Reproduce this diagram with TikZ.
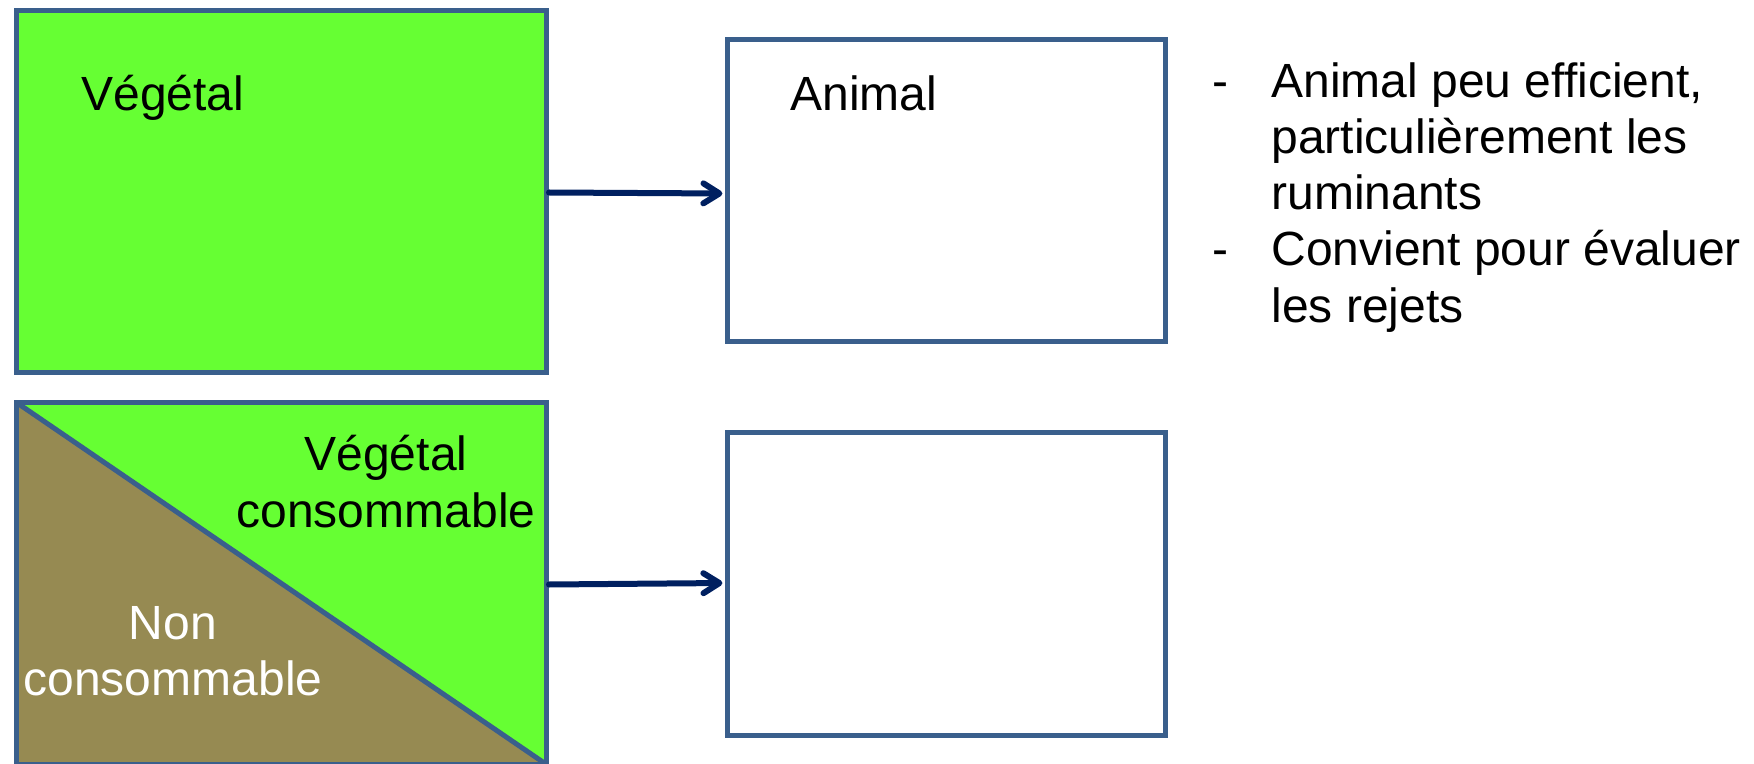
\documentclass[tikz,border=0pt]{standalone}
\usepackage{fontspec}
\setmainfont{Liberation Sans}
\usetikzlibrary{arrows.meta}
\definecolor{vgreen}{HTML}{66FF33}
\definecolor{nonc}{HTML}{968A52}
\definecolor{bordc}{HTML}{3A5F8C}
\definecolor{arrc}{HTML}{002060}
\begin{document}
\begin{tikzpicture}[x=0.5pt,y=-0.5pt,
  box/.style={draw=bordc, line width=2.5pt, rectangle, inner sep=0pt, anchor=north west},
  lbl/.style={inner sep=0pt, font=\fontsize{24}{28}\selectfont, anchor=base west},
  lblc/.style={inner sep=0pt, font=\fontsize{24}{28}\selectfont, anchor=base},
  conn/.style={draw=arrc, line width=3pt, line cap=round, shorten >=1.3pt,
    -{Straight Barb[length=8pt,width=10pt,line cap=round,line join=round]}}]
\useasboundingbox (0,0) rectangle (1754,764);
% boxes
\node[box, fill=vgreen, minimum width=265pt, minimum height=181pt] (b1) at (14,8) {};
\node[box, fill=white, minimum width=219pt, minimum height=151pt] (b2) at (725,37) {};
\node[box, fill=vgreen, minimum width=265pt, minimum height=181pt,
  path picture={
    \fill[nonc] (path picture bounding box.north west) -- (path picture bounding box.south west)
      -- (path picture bounding box.south east) -- cycle;
    \draw[bordc, line width=2.5pt] (path picture bounding box.north west) -- (path picture bounding box.south east);
  }] (b3) at (14,400) {};
\node[box, fill=white, minimum width=219pt, minimum height=151.5pt] (b4) at (725,430) {};
% connectors
\draw[conn] ([yshift=-0.5pt]b1.east) -- ([yshift=-1.5pt]b2.west);
\draw[conn] ([yshift=-0.5pt]b3.east) -- ([yshift=0.5pt]b4.west);
% labels
\node[lbl] (t1) at (81,111) {Végétal};
\node[lbl] (t2) at (790,111) {Animal};
\node[lblc] (t3a) at (386,470) {Végétal};
\node[lblc] (t3b) at (386,527) {consommable};
\node[lblc, text=white] (t4a) at (173,639) {Non};
\node[lblc, text=white] (t4b) at (173,695) {consommable};
% bullet list
\node[lbl] (d1) at (1212,98) {-};
\node[lbl] (l1) at (1271,98) {Animal peu efficient,};
\node[lbl] (l2) at (1271,154) {particulièrement les};
\node[lbl] (l3) at (1271,210) {ruminants};
\node[lbl] (d2) at (1212,266) {-};
\node[lbl] (l4) at (1271,266) {Convient pour évaluer};
\node[lbl] (l5) at (1271,322) {les rejets};
\end{tikzpicture}
\end{document}
